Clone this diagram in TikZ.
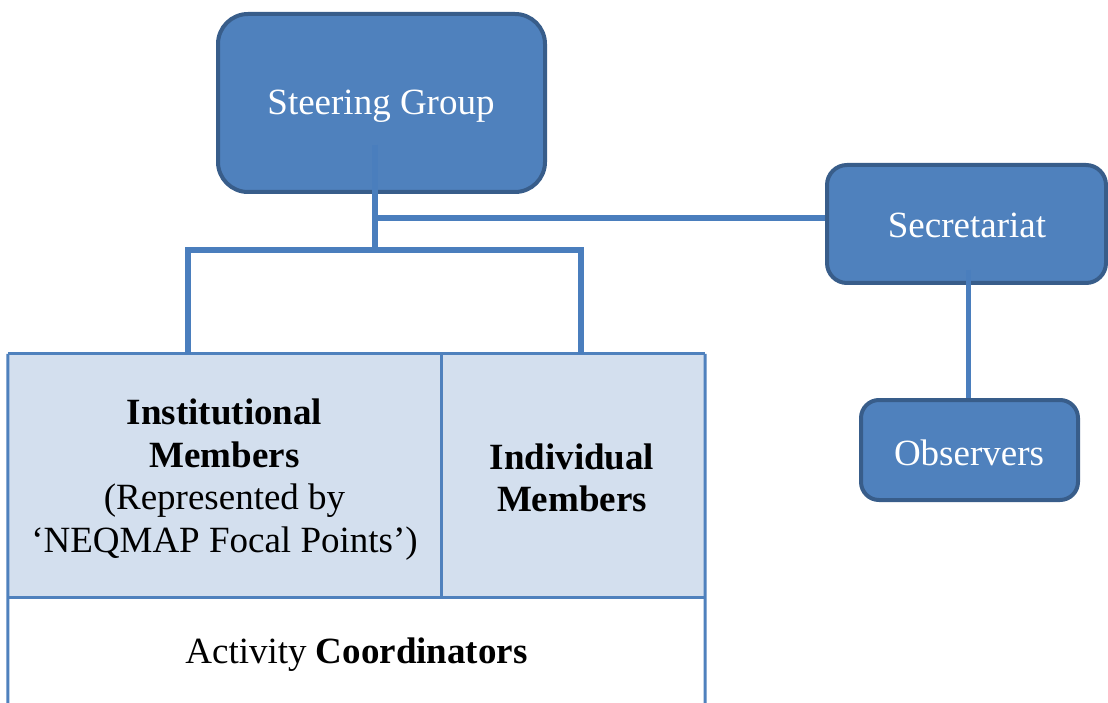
\documentclass[tikz,border=0pt]{standalone}
\usepackage{fontspec}
\setmainfont{Liberation Serif}
\usetikzlibrary{calc}
\definecolor{boxfill}{HTML}{4F81BD}
\definecolor{boxline}{HTML}{385D8A}
\definecolor{cellfill}{HTML}{D3DFEE}
\definecolor{connline}{HTML}{4A7EBD}
\tikzset{
  bluebox/.style={draw=boxline, fill=boxfill, line width=4pt, text=white, rectangle, inner sep=0pt},
  conn/.style={draw=connline, line width=6pt},
  cell/.style={fill=cellfill, rectangle, inner sep=0pt, align=center},
  grid/.style={draw=boxfill, line width=3pt},
  big/.style={font=\fontsize{37}{42.5}\selectfont}
}
\begin{document}
\begin{tikzpicture}[x=1pt,y=1pt]
\useasboundingbox (0,0) rectangle (1108,-703);
\fill[white] (0,0) rectangle (1108,-703);
% blue boxes
\node[bluebox, big, rounded corners=30pt, minimum width=327pt, minimum height=178pt] (sg) at (381.5,-103) {};
\node[big, text=white, inner sep=0pt] (sgt) at (381,-106) {Steering Group};
\node[bluebox, big, rounded corners=20pt, minimum width=279pt, minimum height=118pt] (sec) at (966.5,-224) {};
\node[big, text=white, inner sep=0pt] (sect) at (967,-225.5) {Secretariat};
\node[bluebox, big, rounded corners=18pt, minimum width=217pt, minimum height=100pt] (obs) at (969.5,-450) {};
\node[big, text=white, inner sep=0pt] (obst) at (969,-453) {Observers};
% table cells
\node[cell, minimum width=433pt, minimum height=243pt] (inst) at (224.5,-475.5) {};
\node[cell, minimum width=264pt, minimum height=243pt] (indiv) at (573,-475.5) {};
\node[big, align=center, inner sep=0pt] (instt) at (224.5,-479.5) {\textbf{Institutional}\\\textbf{Members}\\(Represented by\\‘NEQMAP Focal Points’)};
\node[big, align=center, inner sep=0pt] (indivt) at (572,-478) {\textbf{Individual}\\\textbf{Members}};
\node[big, inner sep=0pt] (coord) at (356.5,-655) {Activity \textbf{Coordinators}};
% table lines
\draw[grid] (inst.north west) -- (indiv.north east);
\draw[grid] (inst.south west) -- (indiv.south east);
\draw[grid] (inst.north east) -- (inst.south east);
\draw[grid] (inst.north west) -- (8,-705);
\draw[grid] (indiv.north east) -- (705,-705);
% connectors
\coordinate (top) at ($(sg.south)+(-6.5,49)$);
\coordinate (junc) at (375,-250);
\coordinate (bl) at (188,-250);
\coordinate (br) at (581,-250);
\coordinate (sj) at (375,-218);
\draw[conn] (top) -- (junc);
\draw[conn] (sj) -- (sj -| sec.west);
\draw[conn] (bl |- inst.north) -- (bl) -- (br) -- (br |- indiv.north);
\coordinate (stop) at (968,-270);
\draw[conn, line width=5pt] (stop) -- (stop |- obs.north);
\end{tikzpicture}
\end{document}
